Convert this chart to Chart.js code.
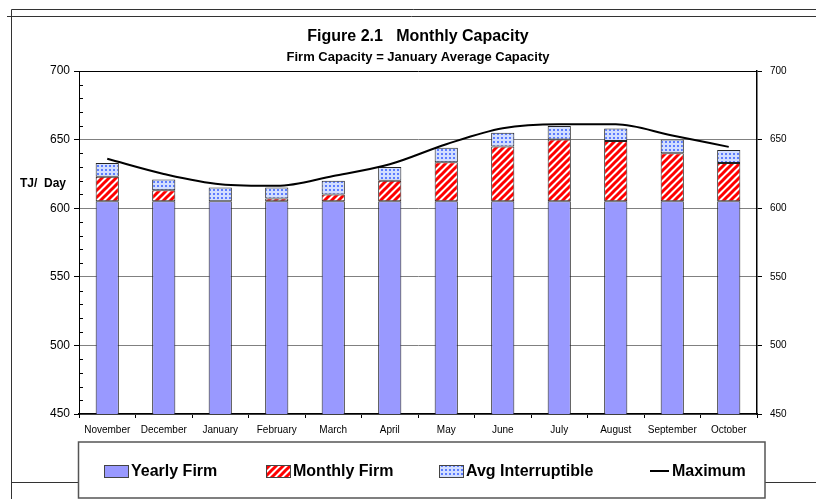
<!DOCTYPE html>
<html>
<head>
<meta charset="utf-8">
<script src="https://cdn.jsdelivr.net/npm/chart.js@4.4.1/dist/chart.umd.min.js"></script>
<style>
  html, body { margin: 0; padding: 0; background: #fff; }
  #wrap { width: 816px; height: 499px; }
</style>
</head>
<body>
<div id="wrap"><canvas id="capacity" width="816" height="499"></canvas></div>
<script>
// Monthly capacity, TJ/day
const months = ['November', 'December', 'January', 'February', 'March', 'April',
                'May', 'June', 'July', 'August', 'September', 'October'];
const yearlyFirm = [605, 605, 605, 605, 605, 605, 605, 605, 605, 605, 605, 605];
const monthlyFirm = [18, 8, 0, 2, 5, 15, 28.5, 40, 45, 44, 35, 28];
const avgInterruptible = [10, 8, 10, 8, 10, 10, 10.5, 10, 10, 9, 10, 9.5];
const maximum = [636, 625, 617.5, 616.3, 623.5, 632, 646.6, 658.3, 661.2, 661.2, 653, 644.7];
const yMin = 450, yMax = 700, yStep = 50, yMinorStep = 10;

const FONT = '"Liberation Sans", Arial, sans-serif';

function stripePattern() {
    const c = document.createElement('canvas');
    c.width = 7; c.height = 7;
    const g = c.getContext('2d');
    g.fillStyle = '#fff';
    g.fillRect(0, 0, 7, 7);
    g.strokeStyle = '#ff0000';
    g.lineWidth = 3;
    g.beginPath();
    g.moveTo(-1, 8); g.lineTo(8, -1);
    g.moveTo(-5, 5); g.lineTo(5, -5);
    g.moveTo(2, 12); g.lineTo(12, 2);
    g.stroke();
    return g.createPattern(c, 'repeat');
}

function dotPattern() {
    const c = document.createElement('canvas');
    c.width = 4; c.height = 4;
    const g = c.getContext('2d');
    g.fillStyle = '#d2deff';
    g.fillRect(0, 0, 4, 4);
    g.fillStyle = '#5c7cff';
    g.fillRect(1, 1, 2, 2);
    return g.createPattern(c, 'repeat');
}

const stripes = stripePattern();
const dots = dotPattern();
const yearlyColor = '#9999ff';

// frame lines, titles, axis caption
const decorations = {
    id: 'decorations',
    beforeDraw(chart) {
        const ctx = chart.ctx;
        ctx.save();
        ctx.fillStyle = '#fff';
        ctx.fillRect(0, 0, chart.width, chart.height);
        ctx.strokeStyle = '#333';
        ctx.lineWidth = 1;
        ctx.beginPath();
        ctx.moveTo(11.5, 9.5); ctx.lineTo(816, 9.5);
        ctx.moveTo(7, 16.5); ctx.lineTo(816, 16.5);
        ctx.moveTo(11.5, 9.5); ctx.lineTo(11.5, 499);
        ctx.moveTo(11.5, 482.5); ctx.lineTo(78, 482.5);
        ctx.moveTo(765, 482.5); ctx.lineTo(816, 482.5);
        ctx.stroke();

        ctx.fillStyle = '#000';
        ctx.textAlign = 'center';
        ctx.textBaseline = 'middle';
        ctx.font = 'bold 16px ' + FONT;
        ctx.fillText('Figure 2.1   Monthly Capacity', 418, 37);
        ctx.font = 'bold 13px ' + FONT;
        ctx.fillText('Firm Capacity = January Average Capacity', 418, 57);

        ctx.textAlign = 'left';
        ctx.font = 'bold 12px ' + FONT;
        ctx.fillText('TJ/  Day', 20, 184);
        ctx.restore();
    },
    afterDraw(chart) {
        const ctx = chart.ctx;
        const y = chart.scales.y;
        const left = chart.chartArea.left;
        ctx.save();
        // minor ticks inside the plot on the left axis
        ctx.strokeStyle = '#000';
        ctx.lineWidth = 1;
        ctx.beginPath();
        for (let v = yMin; v <= yMax; v += yMinorStep) {
            if (v % yStep === 0) continue;
            const py = Math.round(y.getPixelForValue(v)) + 0.5;
            ctx.moveTo(left, py);
            ctx.lineTo(left + 4, py);
        }
        ctx.stroke();

        // legend box
        ctx.strokeStyle = '#555';
        ctx.lineWidth = 1.5;
        ctx.fillStyle = '#fff';
        ctx.fillRect(78.5, 442, 686.5, 57);
        ctx.strokeRect(78.5, 442, 686.5, 56);

        const ds = chart.data.datasets;
        const items = [
            { x: 104, fill: ds[0].backgroundColor, label: ds[0].label },
            { x: 266, fill: ds[1].backgroundColor, label: ds[1].label },
            { x: 439, fill: ds[2].backgroundColor, label: ds[2].label }
        ];
        ctx.font = 'bold 16px ' + FONT;
        ctx.textBaseline = 'middle';
        ctx.textAlign = 'left';
        items.forEach(it => {
            ctx.fillStyle = it.fill;
            ctx.fillRect(it.x, 465, 24, 12);
            ctx.strokeStyle = '#444';
            ctx.lineWidth = 1;
            ctx.strokeRect(it.x + 0.5, 465.5, 24, 12);
            ctx.fillStyle = '#000';
            ctx.fillText(it.label, it.x + 27, 472);
        });
        ctx.strokeStyle = '#000';
        ctx.lineWidth = 2;
        ctx.beginPath();
        ctx.moveTo(650, 471); ctx.lineTo(669, 471);
        ctx.stroke();
        ctx.fillStyle = '#000';
        ctx.fillText(ds[3].label, 672, 472);
        ctx.restore();
    }
};

const barCommon = {
    type: 'bar',
    borderColor: '#222',
    borderWidth: 1,
    borderSkipped: false,
    barPercentage: 0.41,
    categoryPercentage: 1,
    yAxisID: 'y',
    stack: 'capacity',
    order: 1
};

new Chart(document.getElementById('capacity'), {
    type: 'bar',
    data: {
        labels: months,
        datasets: [
            { ...barCommon, label: 'Yearly Firm', data: yearlyFirm, backgroundColor: yearlyColor },
            { ...barCommon, label: 'Monthly Firm', data: monthlyFirm, backgroundColor: stripes },
            { ...barCommon, label: 'Avg Interruptible', data: avgInterruptible, backgroundColor: dots },
            {
                type: 'line', label: 'Maximum', data: maximum, yAxisID: 'yLine',
                borderColor: '#000', borderWidth: 2, pointRadius: 0,
                cubicInterpolationMode: 'monotone',
                fill: false, order: 0
            }
        ]
    },
    options: {
        responsive: false,
        animation: false,
        layout: { padding: { top: 71, left: 0, right: 0, bottom: 0 } },
        plugins: { legend: { display: false }, tooltip: { enabled: false } },
        scales: {
            x: {
                stacked: true,
                border: { color: '#000', width: 1.5 },
                grid: { offset: true, drawOnChartArea: false, tickLength: 4, tickColor: '#000' },
                ticks: { color: '#000', font: { family: FONT, size: 10 }, padding: 6, maxRotation: 0, autoSkip: false },
                afterFit: s => { s.height = 85; }
            },
            y: {
                stacked: true,
                position: 'left',
                min: yMin, max: yMax,
                border: { color: '#000', width: 1 },
                grid: {
                    color: ctx => ctx.tick.value === yMax ? '#000' : (ctx.tick.value % yStep === 0 ? '#808080' : 'rgba(0,0,0,0)'),
                    tickColor: ctx => ctx.tick.value % yStep === 0 ? '#000' : 'rgba(0,0,0,0)',
                    tickLength: 5
                },
                ticks: {
                    stepSize: yMinorStep, autoSkip: false, color: '#000', padding: 4,
                    font: { family: FONT, size: 12 },
                    callback: v => v % yStep === 0 ? v : ''
                },
                afterFit: s => { s.width = 79; }
            },
            y1: {
                position: 'right',
                min: yMin, max: yMax,
                border: { color: '#000', width: 1.5 },
                grid: { drawOnChartArea: false, tickLength: 5, tickColor: '#000' },
                ticks: { stepSize: yStep, color: '#000', padding: 8, font: { family: FONT, size: 10 } },
                afterFit: s => { s.width = 59; }
            },
            yLine: { display: false, min: yMin, max: yMax }
        }
    },
    plugins: [decorations]
});
</script>
</body>
</html>
